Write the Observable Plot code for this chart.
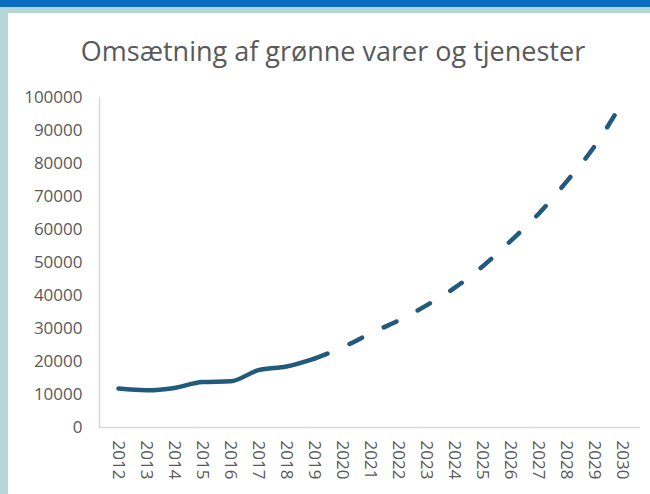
<!DOCTYPE html>
<html>
<head>
<meta charset="utf-8">
<script src="https://cdn.jsdelivr.net/npm/d3@7"></script>
<script src="https://cdn.jsdelivr.net/npm/@observablehq/plot@0.6"></script>
<style>
  html, body { margin: 0; padding: 0; }
  body { width: 650px; height: 494px; overflow: hidden; background: #b5d6d6; position: relative; font-family: "Open Sans", sans-serif; }
  #topbar { position: absolute; left: 0; top: 0; width: 650px; height: 7px; background: #0a6ec0; }
  #panel { position: absolute; left: 8px; top: 13px; width: 642px; height: 481px; background: #fff; }
  #title { position: absolute; left: 0; top: 19px; width: 650px; text-align: center; font-size: 27px; color: #595959; }
  #chart { position: absolute; left: 0; top: 67px; }
</style>
</head>
<body>
<div id="topbar"></div>
<div id="panel">
  <div id="title">Omsætning af grønne varer og tjenester</div>
  <div id="chart"></div>
</div>
<script>
const years = ["2012","2013","2014","2015","2016","2017","2018","2019","2020","2021","2022","2023","2024","2025","2026","2027","2028","2029","2030"];
const actualYears = ["2012","2013","2014","2015","2016","2017","2018","2019"];
const actualValues = [11800, 11300, 12000, 13800, 14000, 17400, 18500, 20900];
const forecastYears = ["2019","2020","2021","2022","2023","2024","2025","2026","2027","2028","2029","2030"];
const forecastValues = [20900, 24300, 28500, 32400, 37000, 42300, 48800, 56500, 64700, 74500, 85200, 98600];
const yTicks = [0, 10000, 20000, 30000, 40000, 50000, 60000, 70000, 80000, 90000, 100000];

const actual = actualYears.map((y, i) => ({year: y, value: actualValues[i]}));
const forecast = forecastYears.map((y, i) => ({year: y, value: forecastValues[i]}));

const lineColor = "#215a7c";
const axisColor = "#d9d9d9";
const textColor = "#595959";

const plot = Plot.plot({
  width: 642,
  height: 414,
  marginLeft: 91,
  marginRight: 10,
  marginTop: 17,
  marginBottom: 67,
  style: { fontFamily: "Open Sans, sans-serif", fontSize: "17px", color: textColor, background: "transparent" },
  x: { type: "point", domain: years, padding: 0.5, label: null, tickSize: 0, tickPadding: 13, tickRotate: 90 },
  y: { domain: [0, 100000], ticks: yTicks, tickFormat: d => String(d), label: null, tickSize: 0, tickPadding: 17 },
  marks: [
    Plot.frame({ anchor: "left", stroke: axisColor, strokeWidth: 1.5 }),
    Plot.ruleY([0], { stroke: axisColor, strokeWidth: 1.5 }),
    Plot.line(actual, { x: "year", y: "value", stroke: lineColor, strokeWidth: 4.5, curve: "monotone-x", strokeLinecap: "round" }),
    Plot.line(forecast, { x: "year", y: "value", stroke: lineColor, strokeWidth: 4.5, curve: "monotone-x", strokeLinecap: "round", strokeDasharray: "14,24" })
  ]
});
document.getElementById("chart").appendChild(plot);
</script>
</body>
</html>
